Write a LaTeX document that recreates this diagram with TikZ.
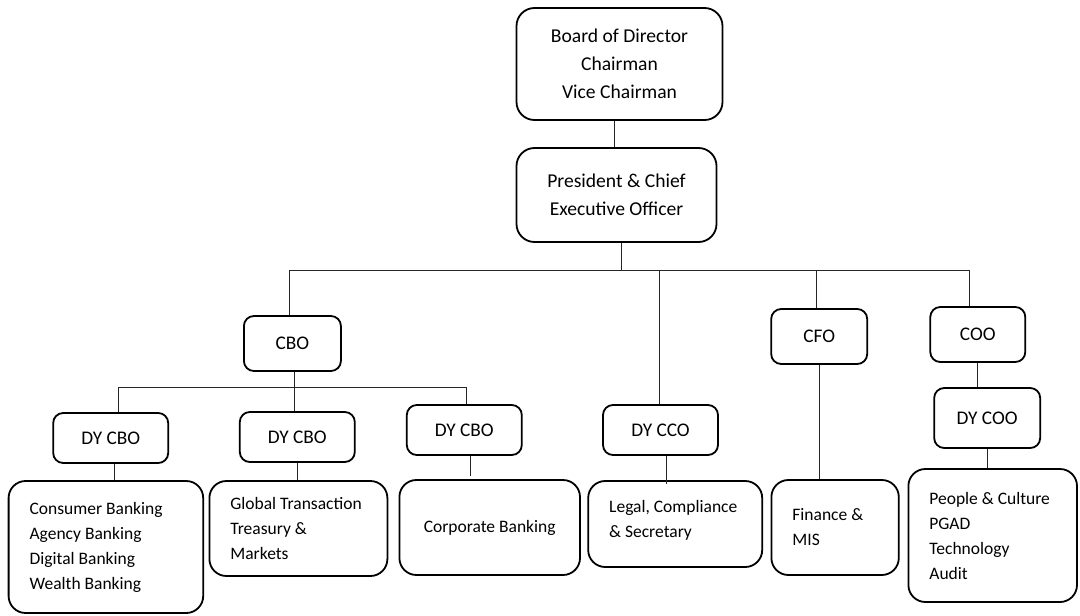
\documentclass[tikz,border=0pt]{standalone}
\usepackage{fontspec}
\setmainfont{Carlito}
% fixed-width word spaces for the left-aligned unit lists
\newcommand\tightspaces{\spaceskip=\fontdimen2\font\relax}
\begin{document}
\begin{tikzpicture}[x=1pt,y=-1pt,
  box/.style={draw=black,line width=1.8pt,rounded corners=10pt,inner sep=0pt,align=center},
  bigbox/.style={box,rounded corners=18pt},
  listbox/.style={draw=black,line width=1.8pt,rounded corners=17pt,inner xsep=21pt,inner ysep=0pt,align=left,
    font=\fontsize{17.5}{25}\selectfont,execute at begin node=\tightspaces},
  topfont/.style={font=\fontsize{19.6}{28}\selectfont},
  midfont/.style={font=\fontsize{19.3}{24}\selectfont},
  link/.style={draw=black!85,line width=1pt}]
\useasboundingbox (0,0) rectangle (1080,616);

% top of the hierarchy
\node[bigbox,topfont,minimum width=206pt,minimum height=112pt] (board) at (619.5,64)
  {Board of Director\\Chairman\\Vice Chairman};
\node[bigbox,topfont,minimum width=200pt,minimum height=94pt] (pres) at (616.5,195)
  {President \& Chief\\Executive Officer};

% chiefs
\node[box,midfont,minimum width=97pt,minimum height=55pt] (cbo) at (292.4,343.5) {CBO};
\node[box,midfont,minimum width=96pt,minimum height=55pt] (cfo) at (819.2,336.5) {CFO};
\node[box,midfont,minimum width=95pt,minimum height=55pt] (coo) at (977.8,334.5) {COO};

% deputies
\node[box,midfont,minimum width=115pt,minimum height=50pt] (dy1) at (110.7,438) {DY CBO};
\node[box,midfont,minimum width=115pt,minimum height=50pt] (dy2) at (297.3,437) {DY CBO};
\node[box,midfont,minimum width=115pt,minimum height=50pt] (dy3) at (464.3,430) {DY CBO};
\node[box,midfont,minimum width=115pt,minimum height=50pt] (dycco) at (660.5,430) {DY CCO};
\node[box,midfont,minimum width=106pt,minimum height=60pt] (dycoo) at (987.2,418) {DY COO};

% units
\node[listbox,text width=152.6pt,minimum height=132pt] (cons) at (105.9,547)
  {Consumer Banking\\Agency Banking\\Digital Banking\\Wealth Banking};
\node[listbox,text width=136pt,minimum height=95pt] (glob) at (298.4,528.5)
  {Global Transaction\\Treasury \&\\Markets};
\node[listbox,align=center,text width=138.6pt,minimum height=95pt] (corp) at (489.7,527.5)
  {Corporate Banking};
\node[listbox,text width=132pt,minimum height=86pt] (legal) at (675.2,524)
  {Legal, Compliance\\\& Secretary\rule[-10pt]{0pt}{1pt}};
\node[listbox,text width=85.4pt,minimum height=95pt] (fin) at (835.1,527.5)
  {Finance \&\\MIS};
\node[listbox,text width=126.6pt,minimum height=133pt] (people) at (992.7,535.5)
  {People \& Culture\\PGAD\\Technology\\Audit};

% bus junctions
\coordinate (busL) at (289,270);
\coordinate (busR) at (969.4,270);
\coordinate (jcco) at (659.8,270);
\coordinate (jcfo) at (816.2,270);
\coordinate (cbL) at (118.1,387);
\coordinate (cbM) at (294.2,387);
\coordinate (cbR) at (466.6,387);

% connectors
\draw[link] ([xshift=-5pt]board.south) -- ([xshift=-5pt]board.south |- pres.north);
\draw[link] (busL) -- (busR);
\draw[link] ([xshift=5pt]pres.south) -- ([xshift=5pt]pres.south |- busL);
\draw[link] (busL) -- (busL |- cbo.north);
\draw[link] (jcco) -- (jcco |- dycco.north);
\draw[link] (jcfo) -- (jcfo |- cfo.north);
\draw[link] (busR) -- (busR |- coo.north);

\draw[link] (cbL) -- (cbR);
\draw[link] (cbM |- cbo.south) -- (cbM);
\draw[link] (cbL) -- (cbL |- dy1.north);
\draw[link] (cbM) -- (cbM |- dy2.north);
\draw[link] (cbR) -- (cbR |- dy3.north);

\draw[link] ([xshift=4pt]dy1.south) -- ([xshift=4pt]dy1.south |- cons.north);
\draw[link] (dy2.south) -- (dy2.south |- glob.north);
\draw[link] ([xshift=6pt]dy3.south) -- ([xshift=6pt,yshift=3pt]dy3.south |- corp.north);
\draw[link] ([xshift=6pt]dycco.south) -- ([xshift=6pt,yshift=-4pt]dycco.south |- legal.north);
\draw[link] (cfo.south) -- (cfo.south |- fin.north);
\draw[link] (coo.south) -- (coo.south |- dycoo.north);
\draw[link] (dycoo.south) -- (dycoo.south |- people.north);
\end{tikzpicture}
\end{document}
